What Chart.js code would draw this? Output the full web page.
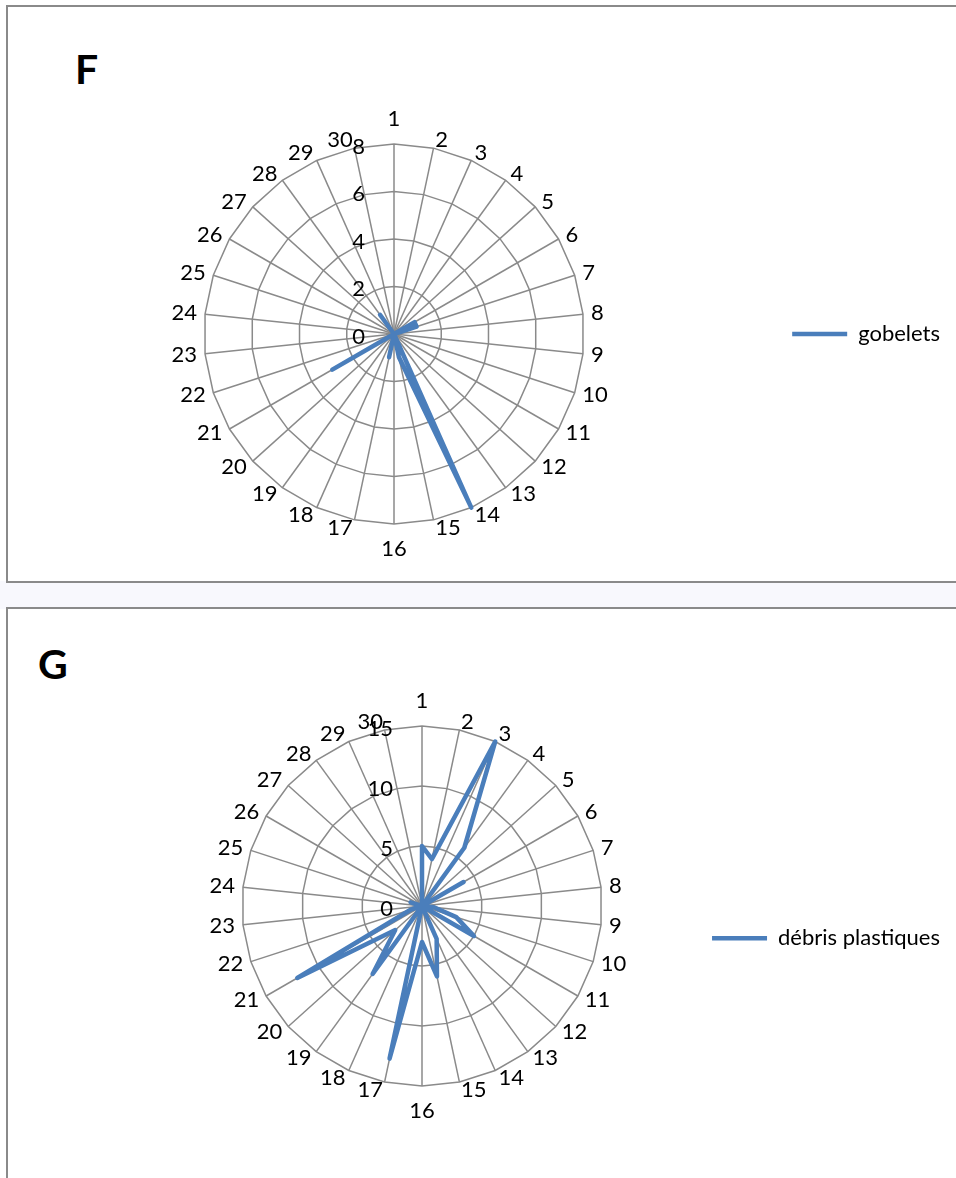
<!DOCTYPE html>
<html>
<head>
<meta charset="utf-8">
<script src="https://cdn.jsdelivr.net/npm/chart.js@4.4.0/dist/chart.umd.min.js"></script>
<style>
  body { margin: 0; width: 956px; height: 1178px; overflow: hidden; position: relative; background: #fff; font-family: Lato, sans-serif; }
  .gap { position: absolute; left: 0; top: 581px; width: 956px; height: 28px; background: #f8f8fd; }
  .box { position: absolute; left: 6px; width: 970px; border: 2px solid #8a8a8a; box-sizing: border-box; background: #fff; }
  #boxF { top: 5px; height: 578px; }
  #boxG { top: 607px; height: 620px; }
  .ttl { position: absolute; font: bold 41px/40px Lato, sans-serif; color: #000; }
  canvas { position: absolute; left: 0; }
</style>
</head>
<body>
<div class="gap"></div>
<div class="box" id="boxF"></div>
<div class="box" id="boxG"></div>
<div class="ttl" style="left:75px;top:49px">F</div>
<div class="ttl" style="left:38px;top:644px">G</div>
<canvas id="chartF" width="956" height="581" style="top:0"></canvas>
<canvas id="chartG" width="956" height="569" style="top:609px"></canvas>
<script>
// categories (days) and values
const categories = ['1','2','3','4','5','6','7','8','9','10','11','12','13','14','15',
                    '16','17','18','19','20','21','22','23','24','25','26','27','28','29','30'];
const gobelets = [0,0,0,0,0,1,1,0,0,0,0,0,0,8,1,0,1,0,0,0,3,0,0,0,0,0,0,1,0,0];
const debrisPlastiques = [5,4,15,6,0,4,0,0,1,3,5,0,0,3,6,3,13,0,7,3,12,1,0,0,1,0,0,0,0,0];
const ticksF = [0,2,4,6,8];
const ticksG = [0,5,10,15];

const blue = '#4a7ebb';
const gridGray = '#8a8a8a';
const font = { family: 'Lato', size: 22 };

// Excel-style labels: values left of the vertical axis, categories
// beside the outer ring, vertically centred on the spoke end
const excelLabels = {
  id: 'excelLabels',
  beforeDatasetsDraw(chart, args, opts) {
    const s = chart.scales.r;
    const ctx = chart.ctx;
    ctx.save();
    ctx.font = '22px Lato';
    ctx.fillStyle = '#000';
    ctx.textBaseline = 'middle';
    ctx.textAlign = 'right';
    opts.values.forEach(v => {
      ctx.fillText(String(v), s.xCenter - 29, s.yCenter - s.getDistanceFromCenterForValue(v) + 2.5);
    });
    chart.data.labels.forEach((lab, i) => {
      const deg = Math.round(s.getIndexAngle(i) * 180 / Math.PI) % 360;
      let p;
      if (deg === 0 || deg === 180) {
        ctx.textAlign = 'center';
        p = s.getPointPosition(i, s.drawingArea + 25);
      } else {
        ctx.textAlign = deg < 180 ? 'left' : 'right';
        p = s.getPointPosition(i, s.drawingArea + 8);
      }
      ctx.fillText(lab, p.x, p.y);
    });
    ctx.restore();
  }
};

function makeRadar(id, label, values, ticks, pad, legendShift) {
  return new Chart(document.getElementById(id), {
    type: 'radar',
    data: {
      labels: categories,
      datasets: [{
        label: label,
        data: values,
        borderColor: blue,
        backgroundColor: blue,
        borderWidth: 4.5,
        borderJoinStyle: 'round',
        borderCapStyle: 'round',
        fill: false,
        pointRadius: 0,
        pointHoverRadius: 0
      }]
    },
    options: {
      responsive: false,
      animation: false,
      layout: { padding: pad },
      scales: {
        r: {
          min: ticks[0],
          max: ticks[ticks.length - 1],
          ticks: { stepSize: ticks[1] - ticks[0], display: false },
          grid: { color: gridGray, lineWidth: 1.5 },
          angleLines: { color: gridGray, lineWidth: 1.5 },
          pointLabels: { display: false }
        }
      },
      plugins: {
        excelLabels: { values: ticks },
        tooltip: { enabled: false },
        legend: {
          position: 'right',
          title: { display: legendShift > 0, text: ' ', padding: { top: legendShift, bottom: 0 } },
          labels: {
            usePointStyle: true,
            pointStyle: 'line',
            pointStyleWidth: 55,
            font: font,
            color: '#000',
            padding: 10
          }
        }
      }
    },
    plugins: [excelLabels]
  });
}

makeRadar('chartF', 'gobelets', gobelets, ticksF, { top: 144, bottom: 57, left: 7, right: 6 }, 0);
makeRadar('chartG', 'débris plastiques', debrisPlastiques, ticksG, { top: 117, bottom: 92, left: 143, right: 6 }, 50);
</script>
</body>
</html>
